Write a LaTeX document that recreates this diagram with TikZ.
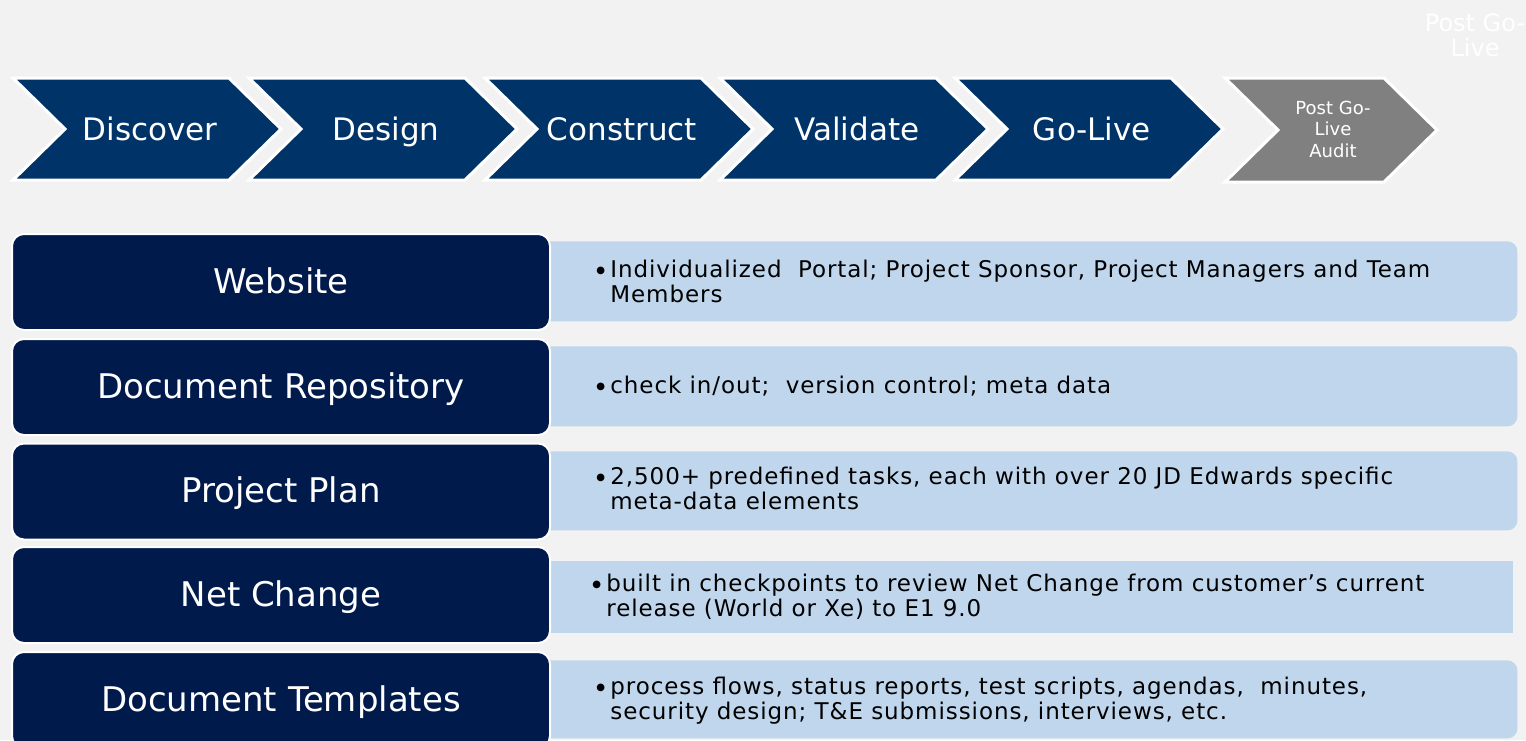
\documentclass[tikz,border=0pt]{standalone}
\usepackage{fontspec}
\setmainfont{DejaVu Sans}
\newfontfamily\bodyfont{DejaVu Sans}[LetterSpace=4]
\definecolor{bgcol}{RGB}{242,242,242}
\definecolor{chevblue}{RGB}{0,52,104}
\definecolor{navy}{RGB}{0,26,76}
\definecolor{lightblue}{RGB}{192,214,236}
\definecolor{chevgray}{RGB}{128,128,128}
\newcommand\mybul{\makebox[7pt][l]{\raisebox{2pt}{\fontsize{5}{5}\selectfont ●}}}
\newcommand\bultwo[2]{\begin{tabular}{@{}l@{}l@{}}\mybul&#1\\&#2\end{tabular}}
\newcommand\bulone[1]{\begin{tabular}{@{}l@{}l@{}}\mybul&#1\end{tabular}}
\begin{document}
\begin{tikzpicture}[x=0.5pt,y=-0.5pt,
  chev/.style={fill=chevblue, draw=white, line width=1.5pt, line join=miter},
  chevg/.style={fill=chevgray, draw=white, line width=1.5pt, line join=miter},
  chevtxt/.style={text=white, inner sep=0pt, anchor=base, font=\fontsize{15.5}{18}\selectfont},
  lbox/.style={fill=navy, draw=white, line width=1pt, rounded corners=6pt, minimum width=269pt, minimum height=48pt, inner sep=0pt, text height=13pt, text depth=2pt, text=white, font=\fontsize{17}{20}\selectfont},
  rbox/.style={fill=lightblue, draw=none, rounded corners=5pt, anchor=north west, inner sep=0pt, minimum width=493.5pt},
  btxt/.style={anchor=west, inner sep=0pt, text=black, font=\bodyfont\fontsize{11.5}{12.5}\selectfont}
]
\fill[bgcol] (0,0) rectangle (1526,740);
\useasboundingbox (0,0) rectangle (1526,740);

% faint header text
\node[text=white, align=center, inner sep=0pt, font=\fontsize{12}{12.5}\selectfont] (hdr) at (1475,35) {Post Go-\\Live};

% chevrons
\foreach \s/\t/\n in {13/Discover/c1, 249/Design/c2, 485/Construct/c3, 720/Validate/c4, 955/Go-Live/c5} {
  \draw[chev] (\s,78) -- ++(216,0) -- ++(52,51) -- ++(-52,51) -- ++(-216,0) -- ++(52,-51) -- cycle;
  \node[chevtxt] (\n) at (\s+137,140) {\t};
}
\draw[chevg] (1225,78) -- (1384,78) -- (1437,130) -- (1384,182) -- (1225,182) -- (1278,130) -- cycle;
\node[text=white, align=center, inner sep=0pt, font=\fontsize{9}{10.75}\selectfont] (c6) at (1333,129) {Post Go-\\Live\\Audit};

% light blue boxes
\node[rbox, minimum height=40pt] (r1) at (530,241) {};
\node[rbox, minimum height=40pt] (r2) at (530,346) {};
\node[rbox, minimum height=39.5pt] (r3) at (530,451) {};
\node[rbox, minimum height=36pt, rounded corners=0pt, minimum width=491.5pt] (r4) at (530,561) {};
\node[rbox, minimum height=39pt] (r5) at (530,660) {};

% dark boxes
\node[lbox] (l1) at (281,282) {Website};
\node[lbox] (l2) at (281,387) {Document Repository};
\node[lbox] (l3) at (281,491.5) {Project Plan};
\node[lbox] (l4) at (281,595) {Net Change};
\node[lbox] (l5) at (281,700) {Document Templates};

% texts
\node[btxt] (t1) at (596,285) {\bultwo{Individualized\ \ Portal; Project Sponsor, Project Managers and Team}{Members}};
\node[btxt] (t2) at (596,388) {\bulone{check in/out;\ \ version control; meta data}};
\node[btxt] (t3) at (596,492) {\bultwo{2,500+ predefined tasks, each with over 20 JD Edwards specific}{meta-data elements}};
\node[btxt] (t4) at (592,599) {\bultwo{built in checkpoints to review Net Change from customer’s current}{release (World or Xe) to E1 9.0}};
\node[btxt] (t5) at (596,702) {\bultwo{process flows, status reports, test scripts, agendas,\ \ minutes,}{security design; T\&E submissions, interviews, etc.}};
\end{tikzpicture}
\end{document}
